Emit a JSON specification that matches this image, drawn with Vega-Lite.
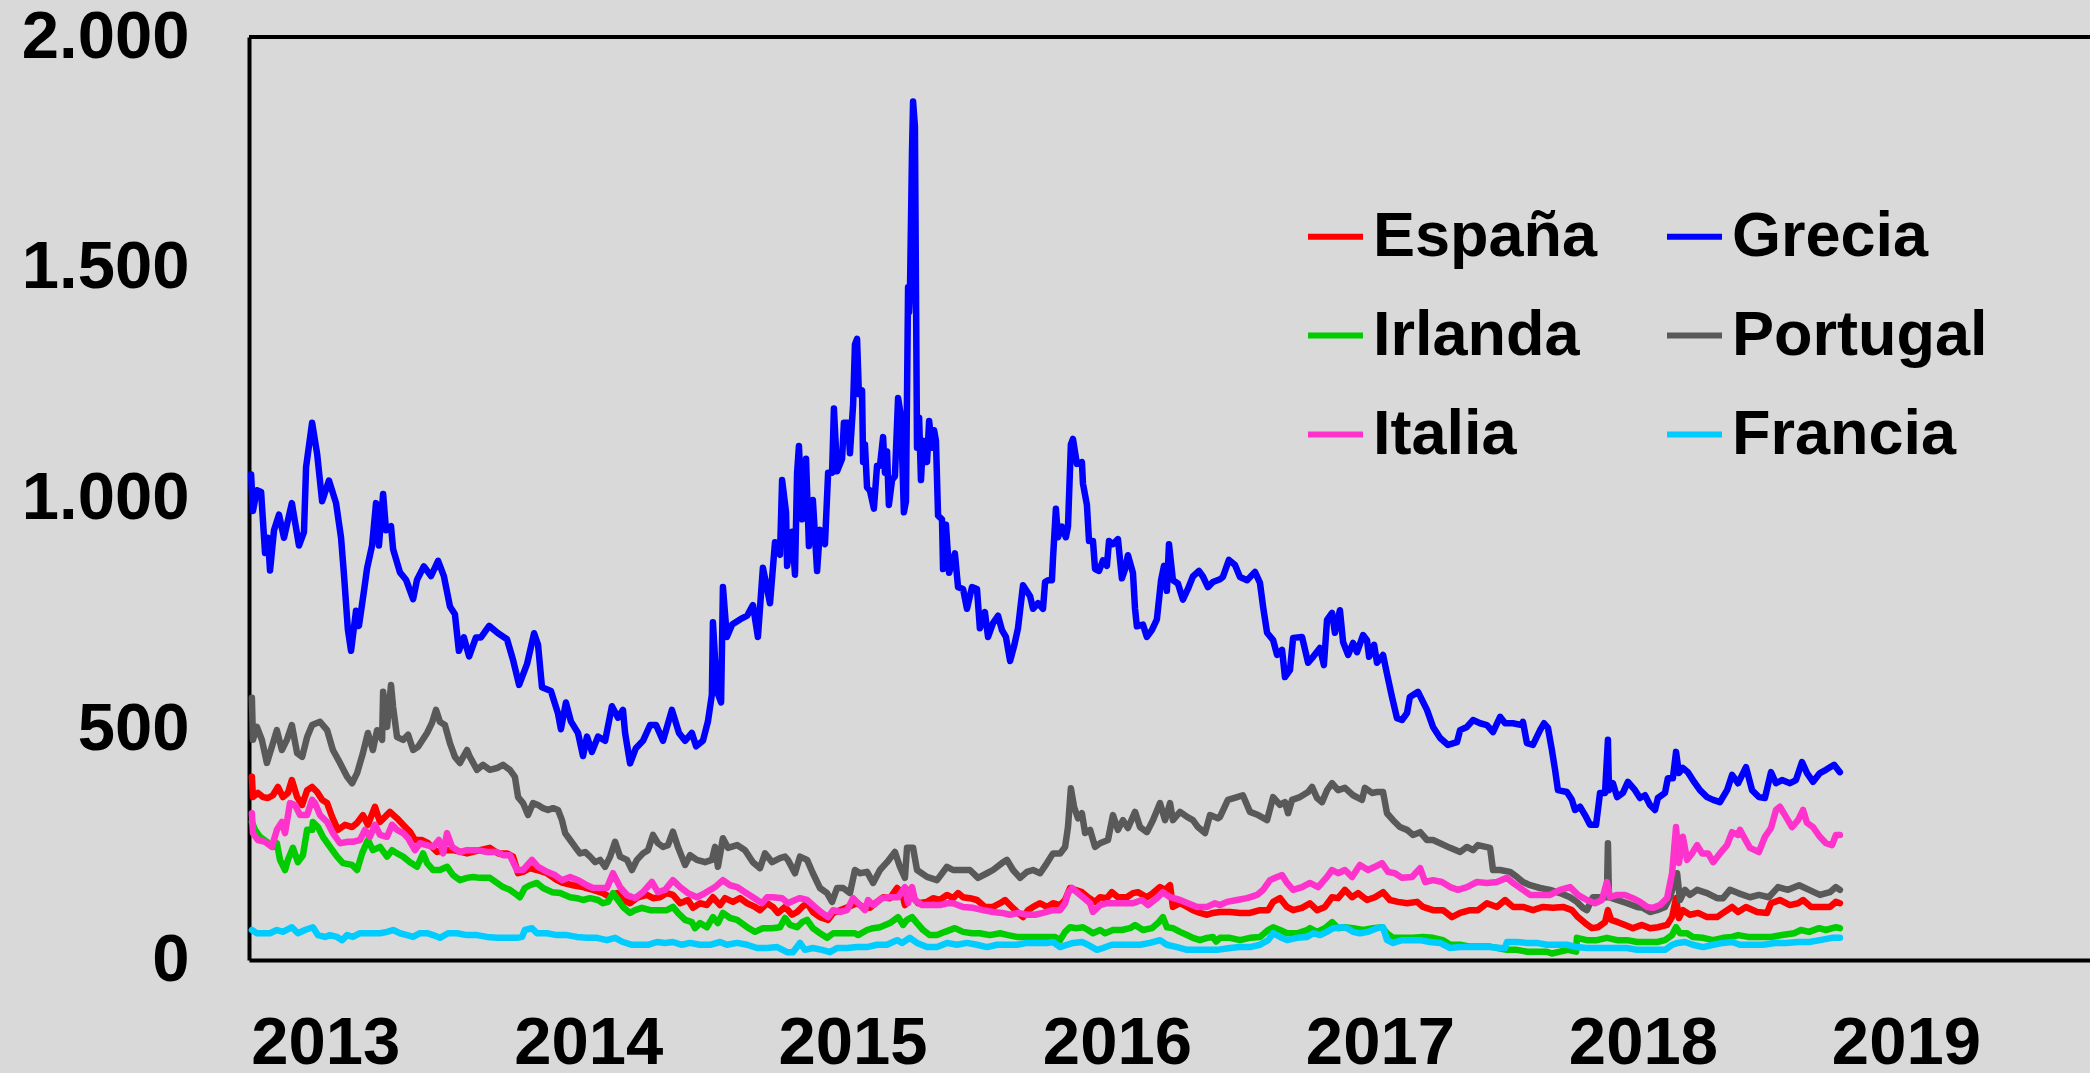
{
"$schema":"https://vega.github.io/schema/vega-lite/v6.json",
"width":1841,"height":923,"autosize":"none",
"padding":{"left":249,"top":37,"right":0,"bottom":113},
"background":"#d9d9d9",
"config":{"view":{"stroke":null},"font":"Liberation Sans",
 "axis":{"labelFont":"Liberation Sans","labelFontWeight":"bold","labelColor":"#000000","labelFontSize":67,"ticks":false,"grid":false,"domainColor":"#000000","domainWidth":4,"title":null,"labelFlush":false,"labelBound":false,"labelOverlap":false}},
"layer":[
{"data":{"values":[
{"pais":"España","t":2013.011,"pb":397},{"pais":"España","t":2013.015,"pb":353},{"pais":"España","t":2013.034,"pb":362},{"pais":"España","t":2013.053,"pb":353},{"pais":"España","t":2013.072,"pb":351},{"pais":"España","t":2013.091,"pb":357},{"pais":"España","t":2013.110,"pb":375},{"pais":"España","t":2013.129,"pb":353},{"pais":"España","t":2013.148,"pb":362},{"pais":"España","t":2013.163,"pb":390},{"pais":"España","t":2013.183,"pb":353},{"pais":"España","t":2013.202,"pb":336},{"pais":"España","t":2013.221,"pb":368},{"pais":"España","t":2013.240,"pb":375},{"pais":"España","t":2013.259,"pb":364},{"pais":"España","t":2013.278,"pb":347},{"pais":"España","t":2013.297,"pb":340},{"pais":"España","t":2013.316,"pb":310},{"pais":"España","t":2013.338,"pb":282},{"pais":"España","t":2013.365,"pb":293},{"pais":"España","t":2013.392,"pb":288},{"pais":"España","t":2013.411,"pb":297},{"pais":"España","t":2013.433,"pb":314},{"pais":"España","t":2013.452,"pb":293},{"pais":"España","t":2013.479,"pb":332},{"pais":"España","t":2013.498,"pb":299},{"pais":"España","t":2013.536,"pb":321},{"pais":"España","t":2013.563,"pb":307},{"pais":"España","t":2013.586,"pb":293},{"pais":"España","t":2013.612,"pb":278},{"pais":"España","t":2013.631,"pb":260},{"pais":"España","t":2013.658,"pb":260},{"pais":"España","t":2013.681,"pb":253},{"pais":"España","t":2013.715,"pb":234},{"pais":"España","t":2013.738,"pb":238},{"pais":"España","t":2013.776,"pb":238},{"pais":"España","t":2013.829,"pb":231},{"pais":"España","t":2013.878,"pb":238},{"pais":"España","t":2013.916,"pb":243},{"pais":"España","t":2013.947,"pb":231},{"pais":"España","t":2013.981,"pb":231},{"pais":"España","t":2014.004,"pb":224},{"pais":"España","t":2014.023,"pb":188},{"pais":"España","t":2014.042,"pb":191},{"pais":"España","t":2014.068,"pb":199},{"pais":"España","t":2014.095,"pb":195},{"pais":"España","t":2014.133,"pb":188},{"pais":"España","t":2014.171,"pb":173},{"pais":"España","t":2014.194,"pb":167},{"pais":"España","t":2014.232,"pb":162},{"pais":"España","t":2014.270,"pb":158},{"pais":"España","t":2014.308,"pb":152},{"pais":"España","t":2014.346,"pb":145},{"pais":"España","t":2014.373,"pb":136},{"pais":"España","t":2014.399,"pb":145},{"pais":"España","t":2014.422,"pb":130},{"pais":"España","t":2014.449,"pb":123},{"pais":"España","t":2014.479,"pb":136},{"pais":"España","t":2014.513,"pb":141},{"pais":"España","t":2014.536,"pb":134},{"pais":"España","t":2014.563,"pb":136},{"pais":"España","t":2014.589,"pb":145},{"pais":"España","t":2014.612,"pb":141},{"pais":"España","t":2014.639,"pb":123},{"pais":"España","t":2014.669,"pb":130},{"pais":"España","t":2014.688,"pb":113},{"pais":"España","t":2014.715,"pb":123},{"pais":"España","t":2014.741,"pb":119},{"pais":"España","t":2014.764,"pb":136},{"pais":"España","t":2014.791,"pb":119},{"pais":"España","t":2014.810,"pb":134},{"pais":"España","t":2014.840,"pb":126},{"pais":"España","t":2014.867,"pb":134},{"pais":"España","t":2014.894,"pb":123},{"pais":"España","t":2014.924,"pb":115},{"pais":"España","t":2014.943,"pb":108},{"pais":"España","t":2014.970,"pb":123},{"pais":"España","t":2014.992,"pb":115},{"pais":"España","t":2015.011,"pb":102},{"pais":"España","t":2015.038,"pb":115},{"pais":"España","t":2015.065,"pb":98},{"pais":"España","t":2015.084,"pb":104},{"pais":"España","t":2015.103,"pb":115},{"pais":"España","t":2015.122,"pb":123},{"pais":"España","t":2015.144,"pb":104},{"pais":"España","t":2015.171,"pb":93},{"pais":"España","t":2015.202,"pb":87},{"pais":"España","t":2015.221,"pb":102},{"pais":"España","t":2015.247,"pb":108},{"pais":"España","t":2015.278,"pb":115},{"pais":"España","t":2015.312,"pb":123},{"pais":"España","t":2015.335,"pb":115},{"pais":"España","t":2015.361,"pb":113},{"pais":"España","t":2015.388,"pb":126},{"pais":"España","t":2015.411,"pb":136},{"pais":"España","t":2015.437,"pb":134},{"pais":"España","t":2015.464,"pb":156},{"pais":"España","t":2015.483,"pb":145},{"pais":"España","t":2015.494,"pb":119},{"pais":"España","t":2015.506,"pb":152},{"pais":"España","t":2015.525,"pb":136},{"pais":"España","t":2015.544,"pb":123},{"pais":"España","t":2015.578,"pb":126},{"pais":"España","t":2015.601,"pb":134},{"pais":"España","t":2015.627,"pb":130},{"pais":"España","t":2015.654,"pb":141},{"pais":"España","t":2015.677,"pb":134},{"pais":"España","t":2015.696,"pb":145},{"pais":"España","t":2015.715,"pb":136},{"pais":"España","t":2015.741,"pb":134},{"pais":"España","t":2015.768,"pb":130},{"pais":"España","t":2015.798,"pb":115},{"pais":"España","t":2015.829,"pb":115},{"pais":"España","t":2015.856,"pb":123},{"pais":"España","t":2015.875,"pb":130},{"pais":"España","t":2015.901,"pb":115},{"pais":"España","t":2015.924,"pb":102},{"pais":"España","t":2015.943,"pb":93},{"pais":"España","t":2015.962,"pb":108},{"pais":"España","t":2015.981,"pb":115},{"pais":"España","t":2016.008,"pb":123},{"pais":"España","t":2016.034,"pb":115},{"pais":"España","t":2016.057,"pb":123},{"pais":"España","t":2016.084,"pb":119},{"pais":"España","t":2016.103,"pb":130},{"pais":"España","t":2016.122,"pb":156},{"pais":"España","t":2016.141,"pb":152},{"pais":"España","t":2016.167,"pb":147},{"pais":"España","t":2016.190,"pb":136},{"pais":"España","t":2016.217,"pb":126},{"pais":"España","t":2016.236,"pb":136},{"pais":"España","t":2016.262,"pb":134},{"pais":"España","t":2016.281,"pb":147},{"pais":"España","t":2016.304,"pb":136},{"pais":"España","t":2016.338,"pb":136},{"pais":"España","t":2016.361,"pb":145},{"pais":"España","t":2016.380,"pb":147},{"pais":"España","t":2016.414,"pb":136},{"pais":"España","t":2016.437,"pb":145},{"pais":"España","t":2016.464,"pb":158},{"pais":"España","t":2016.483,"pb":152},{"pais":"España","t":2016.502,"pb":162},{"pais":"España","t":2016.513,"pb":115},{"pais":"España","t":2016.540,"pb":123},{"pais":"España","t":2016.567,"pb":115},{"pais":"España","t":2016.589,"pb":108},{"pais":"España","t":2016.616,"pb":102},{"pais":"España","t":2016.643,"pb":98},{"pais":"España","t":2016.665,"pb":102},{"pais":"España","t":2016.692,"pb":104},{"pais":"España","t":2016.730,"pb":104},{"pais":"España","t":2016.768,"pb":102},{"pais":"España","t":2016.806,"pb":102},{"pais":"España","t":2016.844,"pb":108},{"pais":"España","t":2016.875,"pb":108},{"pais":"España","t":2016.894,"pb":126},{"pais":"España","t":2016.920,"pb":134},{"pais":"España","t":2016.947,"pb":115},{"pais":"España","t":2016.970,"pb":108},{"pais":"España","t":2017.004,"pb":113},{"pais":"España","t":2017.034,"pb":123},{"pais":"España","t":2017.061,"pb":108},{"pais":"España","t":2017.091,"pb":115},{"pais":"España","t":2017.118,"pb":136},{"pais":"España","t":2017.141,"pb":134},{"pais":"España","t":2017.167,"pb":152},{"pais":"España","t":2017.194,"pb":136},{"pais":"España","t":2017.217,"pb":145},{"pais":"España","t":2017.251,"pb":130},{"pais":"España","t":2017.281,"pb":136},{"pais":"España","t":2017.312,"pb":147},{"pais":"España","t":2017.338,"pb":130},{"pais":"España","t":2017.369,"pb":126},{"pais":"España","t":2017.403,"pb":123},{"pais":"España","t":2017.441,"pb":126},{"pais":"España","t":2017.464,"pb":115},{"pais":"España","t":2017.502,"pb":108},{"pais":"España","t":2017.540,"pb":108},{"pais":"España","t":2017.574,"pb":93},{"pais":"España","t":2017.605,"pb":102},{"pais":"España","t":2017.643,"pb":108},{"pais":"España","t":2017.673,"pb":108},{"pais":"España","t":2017.707,"pb":123},{"pais":"España","t":2017.745,"pb":115},{"pais":"España","t":2017.776,"pb":130},{"pais":"España","t":2017.806,"pb":115},{"pais":"España","t":2017.844,"pb":115},{"pais":"España","t":2017.882,"pb":108},{"pais":"España","t":2017.920,"pb":115},{"pais":"España","t":2017.958,"pb":113},{"pais":"España","t":2017.996,"pb":115},{"pais":"España","t":2018.030,"pb":108},{"pais":"España","t":2018.053,"pb":93},{"pais":"España","t":2018.080,"pb":80},{"pais":"España","t":2018.106,"pb":69},{"pais":"España","t":2018.129,"pb":71},{"pais":"España","t":2018.156,"pb":82},{"pais":"España","t":2018.167,"pb":108},{"pais":"España","t":2018.179,"pb":87},{"pais":"España","t":2018.205,"pb":82},{"pais":"España","t":2018.232,"pb":76},{"pais":"España","t":2018.262,"pb":69},{"pais":"España","t":2018.297,"pb":76},{"pais":"España","t":2018.327,"pb":69},{"pais":"España","t":2018.357,"pb":71},{"pais":"España","t":2018.392,"pb":76},{"pais":"España","t":2018.411,"pb":93},{"pais":"España","t":2018.426,"pb":134},{"pais":"España","t":2018.437,"pb":91},{"pais":"España","t":2018.452,"pb":108},{"pais":"España","t":2018.479,"pb":98},{"pais":"España","t":2018.510,"pb":102},{"pais":"España","t":2018.544,"pb":93},{"pais":"España","t":2018.582,"pb":93},{"pais":"España","t":2018.605,"pb":102},{"pais":"España","t":2018.639,"pb":115},{"pais":"España","t":2018.662,"pb":104},{"pais":"España","t":2018.692,"pb":115},{"pais":"España","t":2018.734,"pb":104},{"pais":"España","t":2018.772,"pb":102},{"pais":"España","t":2018.787,"pb":123},{"pais":"España","t":2018.821,"pb":130},{"pais":"España","t":2018.859,"pb":119},{"pais":"España","t":2018.890,"pb":123},{"pais":"España","t":2018.909,"pb":130},{"pais":"España","t":2018.939,"pb":115},{"pais":"España","t":2018.973,"pb":115},{"pais":"España","t":2019.011,"pb":115},{"pais":"España","t":2019.034,"pb":126},{"pais":"España","t":2019.049,"pb":123},
{"pais":"Grecia","t":2013.008,"pb":1052},{"pais":"Grecia","t":2013.015,"pb":973},{"pais":"Grecia","t":2013.030,"pb":1018},{"pais":"Grecia","t":2013.046,"pb":1014},{"pais":"Grecia","t":2013.061,"pb":882},{"pais":"Grecia","t":2013.072,"pb":915},{"pais":"Grecia","t":2013.080,"pb":844},{"pais":"Grecia","t":2013.095,"pb":931},{"pais":"Grecia","t":2013.114,"pb":965},{"pais":"Grecia","t":2013.133,"pb":915},{"pais":"Grecia","t":2013.163,"pb":990},{"pais":"Grecia","t":2013.190,"pb":898},{"pais":"Grecia","t":2013.209,"pb":927},{"pais":"Grecia","t":2013.217,"pb":1068},{"pais":"Grecia","t":2013.240,"pb":1164},{"pais":"Grecia","t":2013.259,"pb":1097},{"pais":"Grecia","t":2013.278,"pb":994},{"pais":"Grecia","t":2013.304,"pb":1039},{"pais":"Grecia","t":2013.331,"pb":990},{"pais":"Grecia","t":2013.350,"pb":915},{"pais":"Grecia","t":2013.361,"pb":836},{"pais":"Grecia","t":2013.376,"pb":716},{"pais":"Grecia","t":2013.388,"pb":670},{"pais":"Grecia","t":2013.407,"pb":757},{"pais":"Grecia","t":2013.418,"pb":724},{"pais":"Grecia","t":2013.437,"pb":799},{"pais":"Grecia","t":2013.449,"pb":849},{"pais":"Grecia","t":2013.468,"pb":898},{"pais":"Grecia","t":2013.483,"pb":990},{"pais":"Grecia","t":2013.494,"pb":898},{"pais":"Grecia","t":2013.510,"pb":1010},{"pais":"Grecia","t":2013.521,"pb":931},{"pais":"Grecia","t":2013.540,"pb":940},{"pais":"Grecia","t":2013.548,"pb":890},{"pais":"Grecia","t":2013.574,"pb":840},{"pais":"Grecia","t":2013.597,"pb":824},{"pais":"Grecia","t":2013.624,"pb":782},{"pais":"Grecia","t":2013.639,"pb":824},{"pais":"Grecia","t":2013.665,"pb":853},{"pais":"Grecia","t":2013.692,"pb":832},{"pais":"Grecia","t":2013.719,"pb":865},{"pais":"Grecia","t":2013.741,"pb":832},{"pais":"Grecia","t":2013.764,"pb":766},{"pais":"Grecia","t":2013.783,"pb":749},{"pais":"Grecia","t":2013.798,"pb":670},{"pais":"Grecia","t":2013.817,"pb":699},{"pais":"Grecia","t":2013.837,"pb":658},{"pais":"Grecia","t":2013.863,"pb":699},{"pais":"Grecia","t":2013.882,"pb":699},{"pais":"Grecia","t":2013.913,"pb":724},{"pais":"Grecia","t":2013.947,"pb":708},{"pais":"Grecia","t":2013.981,"pb":695},{"pais":"Grecia","t":2014.004,"pb":650},{"pais":"Grecia","t":2014.027,"pb":596},{"pais":"Grecia","t":2014.057,"pb":641},{"pais":"Grecia","t":2014.084,"pb":708},{"pais":"Grecia","t":2014.099,"pb":683},{"pais":"Grecia","t":2014.114,"pb":591},{"pais":"Grecia","t":2014.148,"pb":583},{"pais":"Grecia","t":2014.175,"pb":534},{"pais":"Grecia","t":2014.186,"pb":500},{"pais":"Grecia","t":2014.205,"pb":558},{"pais":"Grecia","t":2014.224,"pb":517},{"pais":"Grecia","t":2014.251,"pb":492},{"pais":"Grecia","t":2014.270,"pb":442},{"pais":"Grecia","t":2014.285,"pb":484},{"pais":"Grecia","t":2014.304,"pb":451},{"pais":"Grecia","t":2014.327,"pb":484},{"pais":"Grecia","t":2014.354,"pb":475},{"pais":"Grecia","t":2014.380,"pb":550},{"pais":"Grecia","t":2014.403,"pb":525},{"pais":"Grecia","t":2014.422,"pb":542},{"pais":"Grecia","t":2014.430,"pb":492},{"pais":"Grecia","t":2014.449,"pb":426},{"pais":"Grecia","t":2014.471,"pb":459},{"pais":"Grecia","t":2014.498,"pb":475},{"pais":"Grecia","t":2014.525,"pb":509},{"pais":"Grecia","t":2014.548,"pb":509},{"pais":"Grecia","t":2014.574,"pb":475},{"pais":"Grecia","t":2014.608,"pb":542},{"pais":"Grecia","t":2014.635,"pb":492},{"pais":"Grecia","t":2014.658,"pb":475},{"pais":"Grecia","t":2014.684,"pb":492},{"pais":"Grecia","t":2014.700,"pb":463},{"pais":"Grecia","t":2014.726,"pb":475},{"pais":"Grecia","t":2014.745,"pb":517},{"pais":"Grecia","t":2014.760,"pb":575},{"pais":"Grecia","t":2014.764,"pb":732},{"pais":"Grecia","t":2014.779,"pb":583},{"pais":"Grecia","t":2014.795,"pb":558},{"pais":"Grecia","t":2014.802,"pb":808},{"pais":"Grecia","t":2014.817,"pb":700},{"pais":"Grecia","t":2014.837,"pb":727},{"pais":"Grecia","t":2014.867,"pb":738},{"pais":"Grecia","t":2014.894,"pb":746},{"pais":"Grecia","t":2014.916,"pb":769},{"pais":"Grecia","t":2014.935,"pb":700},{"pais":"Grecia","t":2014.954,"pb":850},{"pais":"Grecia","t":2014.981,"pb":773},{"pais":"Grecia","t":2015.000,"pb":905},{"pais":"Grecia","t":2015.019,"pb":878},{"pais":"Grecia","t":2015.027,"pb":1040},{"pais":"Grecia","t":2015.042,"pb":970},{"pais":"Grecia","t":2015.046,"pb":854},{"pais":"Grecia","t":2015.065,"pb":928},{"pais":"Grecia","t":2015.076,"pb":835},{"pais":"Grecia","t":2015.084,"pb":1056},{"pais":"Grecia","t":2015.091,"pb":1114},{"pais":"Grecia","t":2015.103,"pb":955},{"pais":"Grecia","t":2015.118,"pb":1086},{"pais":"Grecia","t":2015.129,"pb":897},{"pais":"Grecia","t":2015.144,"pb":997},{"pais":"Grecia","t":2015.160,"pb":843},{"pais":"Grecia","t":2015.171,"pb":932},{"pais":"Grecia","t":2015.190,"pb":901},{"pais":"Grecia","t":2015.202,"pb":1056},{"pais":"Grecia","t":2015.217,"pb":1056},{"pais":"Grecia","t":2015.224,"pb":1195},{"pais":"Grecia","t":2015.236,"pb":1059},{"pais":"Grecia","t":2015.255,"pb":1086},{"pais":"Grecia","t":2015.262,"pb":1164},{"pais":"Grecia","t":2015.278,"pb":1164},{"pais":"Grecia","t":2015.285,"pb":1098},{"pais":"Grecia","t":2015.297,"pb":1203},{"pais":"Grecia","t":2015.304,"pb":1334},{"pais":"Grecia","t":2015.312,"pb":1346},{"pais":"Grecia","t":2015.319,"pb":1226},{"pais":"Grecia","t":2015.331,"pb":1234},{"pais":"Grecia","t":2015.335,"pb":1079},{"pais":"Grecia","t":2015.342,"pb":1117},{"pais":"Grecia","t":2015.350,"pb":1024},{"pais":"Grecia","t":2015.361,"pb":1017},{"pais":"Grecia","t":2015.376,"pb":978},{"pais":"Grecia","t":2015.388,"pb":1071},{"pais":"Grecia","t":2015.399,"pb":1071},{"pais":"Grecia","t":2015.411,"pb":1133},{"pais":"Grecia","t":2015.418,"pb":1056},{"pais":"Grecia","t":2015.426,"pb":1102},{"pais":"Grecia","t":2015.433,"pb":986},{"pais":"Grecia","t":2015.445,"pb":1040},{"pais":"Grecia","t":2015.456,"pb":1048},{"pais":"Grecia","t":2015.468,"pb":1218},{"pais":"Grecia","t":2015.479,"pb":1179},{"pais":"Grecia","t":2015.490,"pb":970},{"pais":"Grecia","t":2015.498,"pb":994},{"pais":"Grecia","t":2015.506,"pb":1458},{"pais":"Grecia","t":2015.510,"pb":1404},{"pais":"Grecia","t":2015.513,"pb":1442},{"pais":"Grecia","t":2015.521,"pb":1752},{"pais":"Grecia","t":2015.525,"pb":1860},{"pais":"Grecia","t":2015.532,"pb":1806},{"pais":"Grecia","t":2015.540,"pb":1110},{"pais":"Grecia","t":2015.548,"pb":1175},{"pais":"Grecia","t":2015.555,"pb":1040},{"pais":"Grecia","t":2015.563,"pb":1125},{"pais":"Grecia","t":2015.578,"pb":1079},{"pais":"Grecia","t":2015.586,"pb":1168},{"pais":"Grecia","t":2015.597,"pb":1110},{"pais":"Grecia","t":2015.605,"pb":1148},{"pais":"Grecia","t":2015.612,"pb":1125},{"pais":"Grecia","t":2015.620,"pb":963},{"pais":"Grecia","t":2015.635,"pb":955},{"pais":"Grecia","t":2015.639,"pb":847},{"pais":"Grecia","t":2015.650,"pb":943},{"pais":"Grecia","t":2015.662,"pb":839},{"pais":"Grecia","t":2015.684,"pb":881},{"pais":"Grecia","t":2015.696,"pb":808},{"pais":"Grecia","t":2015.715,"pb":804},{"pais":"Grecia","t":2015.730,"pb":761},{"pais":"Grecia","t":2015.749,"pb":808},{"pais":"Grecia","t":2015.768,"pb":804},{"pais":"Grecia","t":2015.779,"pb":719},{"pais":"Grecia","t":2015.798,"pb":754},{"pais":"Grecia","t":2015.810,"pb":700},{"pais":"Grecia","t":2015.829,"pb":730},{"pais":"Grecia","t":2015.848,"pb":746},{"pais":"Grecia","t":2015.863,"pb":715},{"pais":"Grecia","t":2015.878,"pb":700},{"pais":"Grecia","t":2015.894,"pb":648},{"pais":"Grecia","t":2015.909,"pb":680},{"pais":"Grecia","t":2015.924,"pb":719},{"pais":"Grecia","t":2015.943,"pb":812},{"pais":"Grecia","t":2015.970,"pb":788},{"pais":"Grecia","t":2015.981,"pb":761},{"pais":"Grecia","t":2016.000,"pb":773},{"pais":"Grecia","t":2016.019,"pb":761},{"pais":"Grecia","t":2016.027,"pb":819},{"pais":"Grecia","t":2016.038,"pb":823},{"pais":"Grecia","t":2016.053,"pb":823},{"pais":"Grecia","t":2016.057,"pb":870},{"pais":"Grecia","t":2016.068,"pb":978},{"pais":"Grecia","t":2016.076,"pb":916},{"pais":"Grecia","t":2016.091,"pb":939},{"pais":"Grecia","t":2016.106,"pb":916},{"pais":"Grecia","t":2016.114,"pb":939},{"pais":"Grecia","t":2016.125,"pb":1117},{"pais":"Grecia","t":2016.133,"pb":1129},{"pais":"Grecia","t":2016.148,"pb":1075},{"pais":"Grecia","t":2016.167,"pb":1079},{"pais":"Grecia","t":2016.171,"pb":1032},{"pais":"Grecia","t":2016.186,"pb":986},{"pais":"Grecia","t":2016.194,"pb":908},{"pais":"Grecia","t":2016.209,"pb":908},{"pais":"Grecia","t":2016.217,"pb":847},{"pais":"Grecia","t":2016.232,"pb":843},{"pais":"Grecia","t":2016.247,"pb":866},{"pais":"Grecia","t":2016.262,"pb":854},{"pais":"Grecia","t":2016.270,"pb":908},{"pais":"Grecia","t":2016.285,"pb":901},{"pais":"Grecia","t":2016.304,"pb":912},{"pais":"Grecia","t":2016.319,"pb":827},{"pais":"Grecia","t":2016.331,"pb":847},{"pais":"Grecia","t":2016.342,"pb":877},{"pais":"Grecia","t":2016.361,"pb":839},{"pais":"Grecia","t":2016.369,"pb":761},{"pais":"Grecia","t":2016.376,"pb":723},{"pais":"Grecia","t":2016.399,"pb":727},{"pais":"Grecia","t":2016.414,"pb":700},{"pais":"Grecia","t":2016.433,"pb":715},{"pais":"Grecia","t":2016.452,"pb":738},{"pais":"Grecia","t":2016.468,"pb":823},{"pais":"Grecia","t":2016.479,"pb":854},{"pais":"Grecia","t":2016.490,"pb":800},{"pais":"Grecia","t":2016.498,"pb":901},{"pais":"Grecia","t":2016.513,"pb":823},{"pais":"Grecia","t":2016.532,"pb":816},{"pais":"Grecia","t":2016.551,"pb":781},{"pais":"Grecia","t":2016.570,"pb":804},{"pais":"Grecia","t":2016.589,"pb":831},{"pais":"Grecia","t":2016.612,"pb":843},{"pais":"Grecia","t":2016.627,"pb":831},{"pais":"Grecia","t":2016.646,"pb":808},{"pais":"Grecia","t":2016.665,"pb":819},{"pais":"Grecia","t":2016.692,"pb":825},{"pais":"Grecia","t":2016.703,"pb":830},{"pais":"Grecia","t":2016.726,"pb":867},{"pais":"Grecia","t":2016.749,"pb":856},{"pais":"Grecia","t":2016.768,"pb":830},{"pais":"Grecia","t":2016.795,"pb":823},{"pais":"Grecia","t":2016.825,"pb":841},{"pais":"Grecia","t":2016.844,"pb":817},{"pais":"Grecia","t":2016.856,"pb":765},{"pais":"Grecia","t":2016.871,"pb":709},{"pais":"Grecia","t":2016.894,"pb":693},{"pais":"Grecia","t":2016.909,"pb":661},{"pais":"Grecia","t":2016.928,"pb":672},{"pais":"Grecia","t":2016.939,"pb":613},{"pais":"Grecia","t":2016.958,"pb":628},{"pais":"Grecia","t":2016.970,"pb":698},{"pais":"Grecia","t":2017.004,"pb":700},{"pais":"Grecia","t":2017.027,"pb":644},{"pais":"Grecia","t":2017.046,"pb":657},{"pais":"Grecia","t":2017.072,"pb":676},{"pais":"Grecia","t":2017.087,"pb":639},{"pais":"Grecia","t":2017.099,"pb":737},{"pais":"Grecia","t":2017.118,"pb":752},{"pais":"Grecia","t":2017.129,"pb":709},{"pais":"Grecia","t":2017.148,"pb":758},{"pais":"Grecia","t":2017.160,"pb":689},{"pais":"Grecia","t":2017.179,"pb":661},{"pais":"Grecia","t":2017.198,"pb":687},{"pais":"Grecia","t":2017.213,"pb":667},{"pais":"Grecia","t":2017.236,"pb":704},{"pais":"Grecia","t":2017.251,"pb":693},{"pais":"Grecia","t":2017.259,"pb":657},{"pais":"Grecia","t":2017.278,"pb":683},{"pais":"Grecia","t":2017.289,"pb":644},{"pais":"Grecia","t":2017.312,"pb":661},{"pais":"Grecia","t":2017.327,"pb":620},{"pais":"Grecia","t":2017.346,"pb":570},{"pais":"Grecia","t":2017.365,"pb":524},{"pais":"Grecia","t":2017.384,"pb":520},{"pais":"Grecia","t":2017.403,"pb":535},{"pais":"Grecia","t":2017.414,"pb":570},{"pais":"Grecia","t":2017.445,"pb":581},{"pais":"Grecia","t":2017.479,"pb":542},{"pais":"Grecia","t":2017.502,"pb":505},{"pais":"Grecia","t":2017.529,"pb":481},{"pais":"Grecia","t":2017.559,"pb":466},{"pais":"Grecia","t":2017.593,"pb":472},{"pais":"Grecia","t":2017.605,"pb":498},{"pais":"Grecia","t":2017.631,"pb":505},{"pais":"Grecia","t":2017.654,"pb":520},{"pais":"Grecia","t":2017.681,"pb":513},{"pais":"Grecia","t":2017.707,"pb":509},{"pais":"Grecia","t":2017.730,"pb":494},{"pais":"Grecia","t":2017.757,"pb":527},{"pais":"Grecia","t":2017.776,"pb":513},{"pais":"Grecia","t":2017.806,"pb":513},{"pais":"Grecia","t":2017.840,"pb":509},{"pais":"Grecia","t":2017.844,"pb":516},{"pais":"Grecia","t":2017.859,"pb":470},{"pais":"Grecia","t":2017.882,"pb":466},{"pais":"Grecia","t":2017.909,"pb":498},{"pais":"Grecia","t":2017.924,"pb":513},{"pais":"Grecia","t":2017.939,"pb":503},{"pais":"Grecia","t":2017.954,"pb":455},{"pais":"Grecia","t":2017.966,"pb":412},{"pais":"Grecia","t":2017.977,"pb":368},{"pais":"Grecia","t":2018.011,"pb":364},{"pais":"Grecia","t":2018.030,"pb":347},{"pais":"Grecia","t":2018.042,"pb":325},{"pais":"Grecia","t":2018.061,"pb":332},{"pais":"Grecia","t":2018.080,"pb":314},{"pais":"Grecia","t":2018.099,"pb":293},{"pais":"Grecia","t":2018.122,"pb":293},{"pais":"Grecia","t":2018.137,"pb":362},{"pais":"Grecia","t":2018.156,"pb":362},{"pais":"Grecia","t":2018.167,"pb":477},{"pais":"Grecia","t":2018.171,"pb":368},{"pais":"Grecia","t":2018.186,"pb":383},{"pais":"Grecia","t":2018.202,"pb":353},{"pais":"Grecia","t":2018.224,"pb":362},{"pais":"Grecia","t":2018.243,"pb":386},{"pais":"Grecia","t":2018.270,"pb":368},{"pais":"Grecia","t":2018.289,"pb":351},{"pais":"Grecia","t":2018.308,"pb":357},{"pais":"Grecia","t":2018.327,"pb":336},{"pais":"Grecia","t":2018.346,"pb":325},{"pais":"Grecia","t":2018.357,"pb":351},{"pais":"Grecia","t":2018.384,"pb":362},{"pais":"Grecia","t":2018.395,"pb":394},{"pais":"Grecia","t":2018.414,"pb":394},{"pais":"Grecia","t":2018.426,"pb":451},{"pais":"Grecia","t":2018.437,"pb":405},{"pais":"Grecia","t":2018.452,"pb":416},{"pais":"Grecia","t":2018.471,"pb":407},{"pais":"Grecia","t":2018.490,"pb":390},{"pais":"Grecia","t":2018.517,"pb":368},{"pais":"Grecia","t":2018.544,"pb":353},{"pais":"Grecia","t":2018.567,"pb":347},{"pais":"Grecia","t":2018.593,"pb":342},{"pais":"Grecia","t":2018.620,"pb":368},{"pais":"Grecia","t":2018.639,"pb":401},{"pais":"Grecia","t":2018.662,"pb":383},{"pais":"Grecia","t":2018.692,"pb":418},{"pais":"Grecia","t":2018.715,"pb":368},{"pais":"Grecia","t":2018.741,"pb":353},{"pais":"Grecia","t":2018.764,"pb":351},{"pais":"Grecia","t":2018.787,"pb":407},{"pais":"Grecia","t":2018.806,"pb":383},{"pais":"Grecia","t":2018.829,"pb":390},{"pais":"Grecia","t":2018.859,"pb":383},{"pais":"Grecia","t":2018.882,"pb":390},{"pais":"Grecia","t":2018.905,"pb":429},{"pais":"Grecia","t":2018.924,"pb":405},{"pais":"Grecia","t":2018.947,"pb":386},{"pais":"Grecia","t":2018.973,"pb":405},{"pais":"Grecia","t":2018.996,"pb":412},{"pais":"Grecia","t":2019.027,"pb":423},{"pais":"Grecia","t":2019.049,"pb":407},
{"pais":"Irlanda","t":2013.011,"pb":299},{"pais":"Irlanda","t":2013.023,"pb":282},{"pais":"Irlanda","t":2013.042,"pb":267},{"pais":"Irlanda","t":2013.068,"pb":256},{"pais":"Irlanda","t":2013.091,"pb":245},{"pais":"Irlanda","t":2013.106,"pb":253},{"pais":"Irlanda","t":2013.118,"pb":217},{"pais":"Irlanda","t":2013.137,"pb":195},{"pais":"Irlanda","t":2013.148,"pb":217},{"pais":"Irlanda","t":2013.167,"pb":243},{"pais":"Irlanda","t":2013.186,"pb":212},{"pais":"Irlanda","t":2013.205,"pb":227},{"pais":"Irlanda","t":2013.221,"pb":282},{"pais":"Irlanda","t":2013.240,"pb":282},{"pais":"Irlanda","t":2013.243,"pb":299},{"pais":"Irlanda","t":2013.262,"pb":288},{"pais":"Irlanda","t":2013.281,"pb":267},{"pais":"Irlanda","t":2013.308,"pb":245},{"pais":"Irlanda","t":2013.335,"pb":224},{"pais":"Irlanda","t":2013.357,"pb":210},{"pais":"Irlanda","t":2013.392,"pb":206},{"pais":"Irlanda","t":2013.411,"pb":195},{"pais":"Irlanda","t":2013.430,"pb":231},{"pais":"Irlanda","t":2013.452,"pb":260},{"pais":"Irlanda","t":2013.471,"pb":238},{"pais":"Irlanda","t":2013.498,"pb":245},{"pais":"Irlanda","t":2013.525,"pb":224},{"pais":"Irlanda","t":2013.544,"pb":238},{"pais":"Irlanda","t":2013.563,"pb":231},{"pais":"Irlanda","t":2013.586,"pb":224},{"pais":"Irlanda","t":2013.612,"pb":212},{"pais":"Irlanda","t":2013.639,"pb":202},{"pais":"Irlanda","t":2013.662,"pb":231},{"pais":"Irlanda","t":2013.677,"pb":210},{"pais":"Irlanda","t":2013.700,"pb":195},{"pais":"Irlanda","t":2013.726,"pb":195},{"pais":"Irlanda","t":2013.753,"pb":202},{"pais":"Irlanda","t":2013.776,"pb":184},{"pais":"Irlanda","t":2013.802,"pb":173},{"pais":"Irlanda","t":2013.829,"pb":178},{"pais":"Irlanda","t":2013.852,"pb":180},{"pais":"Irlanda","t":2013.878,"pb":178},{"pais":"Irlanda","t":2013.916,"pb":178},{"pais":"Irlanda","t":2013.943,"pb":167},{"pais":"Irlanda","t":2013.966,"pb":158},{"pais":"Irlanda","t":2013.992,"pb":152},{"pais":"Irlanda","t":2014.019,"pb":141},{"pais":"Irlanda","t":2014.030,"pb":136},{"pais":"Irlanda","t":2014.049,"pb":156},{"pais":"Irlanda","t":2014.068,"pb":162},{"pais":"Irlanda","t":2014.095,"pb":167},{"pais":"Irlanda","t":2014.118,"pb":156},{"pais":"Irlanda","t":2014.152,"pb":147},{"pais":"Irlanda","t":2014.183,"pb":145},{"pais":"Irlanda","t":2014.221,"pb":136},{"pais":"Irlanda","t":2014.247,"pb":134},{"pais":"Irlanda","t":2014.270,"pb":130},{"pais":"Irlanda","t":2014.297,"pb":134},{"pais":"Irlanda","t":2014.327,"pb":130},{"pais":"Irlanda","t":2014.346,"pb":123},{"pais":"Irlanda","t":2014.365,"pb":126},{"pais":"Irlanda","t":2014.384,"pb":145},{"pais":"Irlanda","t":2014.403,"pb":130},{"pais":"Irlanda","t":2014.422,"pb":115},{"pais":"Irlanda","t":2014.449,"pb":102},{"pais":"Irlanda","t":2014.468,"pb":108},{"pais":"Irlanda","t":2014.494,"pb":113},{"pais":"Irlanda","t":2014.525,"pb":108},{"pais":"Irlanda","t":2014.555,"pb":108},{"pais":"Irlanda","t":2014.589,"pb":108},{"pais":"Irlanda","t":2014.612,"pb":115},{"pais":"Irlanda","t":2014.631,"pb":102},{"pais":"Irlanda","t":2014.658,"pb":87},{"pais":"Irlanda","t":2014.684,"pb":82},{"pais":"Irlanda","t":2014.696,"pb":69},{"pais":"Irlanda","t":2014.715,"pb":80},{"pais":"Irlanda","t":2014.741,"pb":71},{"pais":"Irlanda","t":2014.764,"pb":93},{"pais":"Irlanda","t":2014.783,"pb":80},{"pais":"Irlanda","t":2014.802,"pb":102},{"pais":"Irlanda","t":2014.829,"pb":91},{"pais":"Irlanda","t":2014.856,"pb":87},{"pais":"Irlanda","t":2014.894,"pb":71},{"pais":"Irlanda","t":2014.924,"pb":61},{"pais":"Irlanda","t":2014.954,"pb":69},{"pais":"Irlanda","t":2014.989,"pb":69},{"pais":"Irlanda","t":2015.019,"pb":71},{"pais":"Irlanda","t":2015.038,"pb":91},{"pais":"Irlanda","t":2015.057,"pb":76},{"pais":"Irlanda","t":2015.084,"pb":71},{"pais":"Irlanda","t":2015.103,"pb":82},{"pais":"Irlanda","t":2015.122,"pb":87},{"pais":"Irlanda","t":2015.144,"pb":69},{"pais":"Irlanda","t":2015.171,"pb":58},{"pais":"Irlanda","t":2015.198,"pb":48},{"pais":"Irlanda","t":2015.221,"pb":58},{"pais":"Irlanda","t":2015.259,"pb":58},{"pais":"Irlanda","t":2015.304,"pb":58},{"pais":"Irlanda","t":2015.316,"pb":54},{"pais":"Irlanda","t":2015.350,"pb":65},{"pais":"Irlanda","t":2015.373,"pb":69},{"pais":"Irlanda","t":2015.399,"pb":71},{"pais":"Irlanda","t":2015.437,"pb":80},{"pais":"Irlanda","t":2015.468,"pb":93},{"pais":"Irlanda","t":2015.487,"pb":76},{"pais":"Irlanda","t":2015.502,"pb":87},{"pais":"Irlanda","t":2015.521,"pb":93},{"pais":"Irlanda","t":2015.540,"pb":80},{"pais":"Irlanda","t":2015.563,"pb":65},{"pais":"Irlanda","t":2015.589,"pb":54},{"pais":"Irlanda","t":2015.616,"pb":54},{"pais":"Irlanda","t":2015.646,"pb":61},{"pais":"Irlanda","t":2015.684,"pb":69},{"pais":"Irlanda","t":2015.715,"pb":61},{"pais":"Irlanda","t":2015.749,"pb":58},{"pais":"Irlanda","t":2015.779,"pb":58},{"pais":"Irlanda","t":2015.817,"pb":54},{"pais":"Irlanda","t":2015.856,"pb":58},{"pais":"Irlanda","t":2015.886,"pb":54},{"pais":"Irlanda","t":2015.920,"pb":50},{"pais":"Irlanda","t":2015.958,"pb":50},{"pais":"Irlanda","t":2015.996,"pb":50},{"pais":"Irlanda","t":2016.034,"pb":50},{"pais":"Irlanda","t":2016.065,"pb":50},{"pais":"Irlanda","t":2016.084,"pb":43},{"pais":"Irlanda","t":2016.103,"pb":61},{"pais":"Irlanda","t":2016.122,"pb":71},{"pais":"Irlanda","t":2016.148,"pb":69},{"pais":"Irlanda","t":2016.171,"pb":71},{"pais":"Irlanda","t":2016.190,"pb":65},{"pais":"Irlanda","t":2016.209,"pb":58},{"pais":"Irlanda","t":2016.236,"pb":65},{"pais":"Irlanda","t":2016.255,"pb":58},{"pais":"Irlanda","t":2016.285,"pb":65},{"pais":"Irlanda","t":2016.319,"pb":65},{"pais":"Irlanda","t":2016.350,"pb":69},{"pais":"Irlanda","t":2016.369,"pb":76},{"pais":"Irlanda","t":2016.399,"pb":65},{"pais":"Irlanda","t":2016.433,"pb":69},{"pais":"Irlanda","t":2016.456,"pb":80},{"pais":"Irlanda","t":2016.475,"pb":93},{"pais":"Irlanda","t":2016.490,"pb":71},{"pais":"Irlanda","t":2016.513,"pb":69},{"pais":"Irlanda","t":2016.540,"pb":61},{"pais":"Irlanda","t":2016.567,"pb":54},{"pais":"Irlanda","t":2016.589,"pb":48},{"pais":"Irlanda","t":2016.616,"pb":43},{"pais":"Irlanda","t":2016.643,"pb":48},{"pais":"Irlanda","t":2016.665,"pb":50},{"pais":"Irlanda","t":2016.677,"pb":40},{"pais":"Irlanda","t":2016.692,"pb":48},{"pais":"Irlanda","t":2016.730,"pb":48},{"pais":"Irlanda","t":2016.768,"pb":43},{"pais":"Irlanda","t":2016.806,"pb":48},{"pais":"Irlanda","t":2016.844,"pb":50},{"pais":"Irlanda","t":2016.875,"pb":65},{"pais":"Irlanda","t":2016.894,"pb":71},{"pais":"Irlanda","t":2016.920,"pb":65},{"pais":"Irlanda","t":2016.947,"pb":58},{"pais":"Irlanda","t":2016.985,"pb":58},{"pais":"Irlanda","t":2017.023,"pb":65},{"pais":"Irlanda","t":2017.034,"pb":69},{"pais":"Irlanda","t":2017.061,"pb":61},{"pais":"Irlanda","t":2017.091,"pb":69},{"pais":"Irlanda","t":2017.118,"pb":82},{"pais":"Irlanda","t":2017.141,"pb":69},{"pais":"Irlanda","t":2017.167,"pb":71},{"pais":"Irlanda","t":2017.198,"pb":69},{"pais":"Irlanda","t":2017.236,"pb":65},{"pais":"Irlanda","t":2017.274,"pb":69},{"pais":"Irlanda","t":2017.308,"pb":71},{"pais":"Irlanda","t":2017.327,"pb":58},{"pais":"Irlanda","t":2017.350,"pb":48},{"pais":"Irlanda","t":2017.388,"pb":48},{"pais":"Irlanda","t":2017.426,"pb":48},{"pais":"Irlanda","t":2017.464,"pb":50},{"pais":"Irlanda","t":2017.502,"pb":48},{"pais":"Irlanda","t":2017.540,"pb":43},{"pais":"Irlanda","t":2017.567,"pb":33},{"pais":"Irlanda","t":2017.605,"pb":33},{"pais":"Irlanda","t":2017.643,"pb":29},{"pais":"Irlanda","t":2017.681,"pb":29},{"pais":"Irlanda","t":2017.719,"pb":29},{"pais":"Irlanda","t":2017.757,"pb":25},{"pais":"Irlanda","t":2017.783,"pb":22},{"pais":"Irlanda","t":2017.821,"pb":22},{"pais":"Irlanda","t":2017.859,"pb":18},{"pais":"Irlanda","t":2017.897,"pb":18},{"pais":"Irlanda","t":2017.935,"pb":18},{"pais":"Irlanda","t":2017.954,"pb":14},{"pais":"Irlanda","t":2017.985,"pb":18},{"pais":"Irlanda","t":2018.015,"pb":22},{"pais":"Irlanda","t":2018.046,"pb":18},{"pais":"Irlanda","t":2018.049,"pb":48},{"pais":"Irlanda","t":2018.087,"pb":43},{"pais":"Irlanda","t":2018.125,"pb":43},{"pais":"Irlanda","t":2018.163,"pb":48},{"pais":"Irlanda","t":2018.202,"pb":43},{"pais":"Irlanda","t":2018.240,"pb":43},{"pais":"Irlanda","t":2018.278,"pb":39},{"pais":"Irlanda","t":2018.316,"pb":39},{"pais":"Irlanda","t":2018.354,"pb":39},{"pais":"Irlanda","t":2018.384,"pb":43},{"pais":"Irlanda","t":2018.411,"pb":54},{"pais":"Irlanda","t":2018.426,"pb":71},{"pais":"Irlanda","t":2018.441,"pb":58},{"pais":"Irlanda","t":2018.468,"pb":58},{"pais":"Irlanda","t":2018.490,"pb":50},{"pais":"Irlanda","t":2018.529,"pb":48},{"pais":"Irlanda","t":2018.567,"pb":43},{"pais":"Irlanda","t":2018.605,"pb":48},{"pais":"Irlanda","t":2018.639,"pb":50},{"pais":"Irlanda","t":2018.662,"pb":54},{"pais":"Irlanda","t":2018.700,"pb":50},{"pais":"Irlanda","t":2018.741,"pb":50},{"pais":"Irlanda","t":2018.787,"pb":50},{"pais":"Irlanda","t":2018.829,"pb":54},{"pais":"Irlanda","t":2018.875,"pb":58},{"pais":"Irlanda","t":2018.901,"pb":65},{"pais":"Irlanda","t":2018.932,"pb":61},{"pais":"Irlanda","t":2018.970,"pb":69},{"pais":"Irlanda","t":2018.996,"pb":65},{"pais":"Irlanda","t":2019.034,"pb":71},{"pais":"Irlanda","t":2019.049,"pb":69},
{"pais":"Portugal","t":2013.011,"pb":568},{"pais":"Portugal","t":2013.015,"pb":477},{"pais":"Portugal","t":2013.030,"pb":505},{"pais":"Portugal","t":2013.049,"pb":477},{"pais":"Portugal","t":2013.068,"pb":427},{"pais":"Portugal","t":2013.087,"pb":462},{"pais":"Portugal","t":2013.106,"pb":498},{"pais":"Portugal","t":2013.125,"pb":455},{"pais":"Portugal","t":2013.144,"pb":477},{"pais":"Portugal","t":2013.163,"pb":509},{"pais":"Portugal","t":2013.183,"pb":448},{"pais":"Portugal","t":2013.202,"pb":440},{"pais":"Portugal","t":2013.221,"pb":483},{"pais":"Portugal","t":2013.240,"pb":509},{"pais":"Portugal","t":2013.270,"pb":516},{"pais":"Portugal","t":2013.297,"pb":498},{"pais":"Portugal","t":2013.319,"pb":455},{"pais":"Portugal","t":2013.346,"pb":427},{"pais":"Portugal","t":2013.373,"pb":397},{"pais":"Portugal","t":2013.392,"pb":383},{"pais":"Portugal","t":2013.411,"pb":405},{"pais":"Portugal","t":2013.433,"pb":448},{"pais":"Portugal","t":2013.452,"pb":492},{"pais":"Portugal","t":2013.471,"pb":455},{"pais":"Portugal","t":2013.487,"pb":498},{"pais":"Portugal","t":2013.506,"pb":477},{"pais":"Portugal","t":2013.510,"pb":581},{"pais":"Portugal","t":2013.525,"pb":505},{"pais":"Portugal","t":2013.540,"pb":596},{"pais":"Portugal","t":2013.548,"pb":548},{"pais":"Portugal","t":2013.563,"pb":483},{"pais":"Portugal","t":2013.586,"pb":477},{"pais":"Portugal","t":2013.605,"pb":488},{"pais":"Portugal","t":2013.624,"pb":455},{"pais":"Portugal","t":2013.643,"pb":462},{"pais":"Portugal","t":2013.677,"pb":492},{"pais":"Portugal","t":2013.696,"pb":514},{"pais":"Portugal","t":2013.711,"pb":542},{"pais":"Portugal","t":2013.726,"pb":516},{"pais":"Portugal","t":2013.745,"pb":509},{"pais":"Portugal","t":2013.764,"pb":470},{"pais":"Portugal","t":2013.783,"pb":440},{"pais":"Portugal","t":2013.802,"pb":427},{"pais":"Portugal","t":2013.829,"pb":455},{"pais":"Portugal","t":2013.840,"pb":440},{"pais":"Portugal","t":2013.867,"pb":412},{"pais":"Portugal","t":2013.890,"pb":423},{"pais":"Portugal","t":2013.916,"pb":412},{"pais":"Portugal","t":2013.943,"pb":416},{"pais":"Portugal","t":2013.966,"pb":423},{"pais":"Portugal","t":2013.992,"pb":412},{"pais":"Portugal","t":2014.011,"pb":397},{"pais":"Portugal","t":2014.023,"pb":353},{"pais":"Portugal","t":2014.042,"pb":340},{"pais":"Portugal","t":2014.061,"pb":314},{"pais":"Portugal","t":2014.080,"pb":340},{"pais":"Portugal","t":2014.099,"pb":336},{"pais":"Portugal","t":2014.118,"pb":329},{"pais":"Portugal","t":2014.137,"pb":325},{"pais":"Portugal","t":2014.156,"pb":329},{"pais":"Portugal","t":2014.175,"pb":325},{"pais":"Portugal","t":2014.190,"pb":303},{"pais":"Portugal","t":2014.202,"pb":275},{"pais":"Portugal","t":2014.221,"pb":260},{"pais":"Portugal","t":2014.240,"pb":245},{"pais":"Portugal","t":2014.259,"pb":231},{"pais":"Portugal","t":2014.278,"pb":234},{"pais":"Portugal","t":2014.297,"pb":224},{"pais":"Portugal","t":2014.316,"pb":212},{"pais":"Portugal","t":2014.335,"pb":217},{"pais":"Portugal","t":2014.354,"pb":202},{"pais":"Portugal","t":2014.373,"pb":224},{"pais":"Portugal","t":2014.392,"pb":256},{"pais":"Portugal","t":2014.411,"pb":224},{"pais":"Portugal","t":2014.437,"pb":217},{"pais":"Portugal","t":2014.456,"pb":195},{"pais":"Portugal","t":2014.475,"pb":217},{"pais":"Portugal","t":2014.498,"pb":231},{"pais":"Portugal","t":2014.517,"pb":238},{"pais":"Portugal","t":2014.536,"pb":271},{"pais":"Portugal","t":2014.555,"pb":253},{"pais":"Portugal","t":2014.574,"pb":245},{"pais":"Portugal","t":2014.593,"pb":249},{"pais":"Portugal","t":2014.612,"pb":278},{"pais":"Portugal","t":2014.631,"pb":245},{"pais":"Portugal","t":2014.658,"pb":206},{"pais":"Portugal","t":2014.677,"pb":227},{"pais":"Portugal","t":2014.703,"pb":217},{"pais":"Portugal","t":2014.734,"pb":212},{"pais":"Portugal","t":2014.760,"pb":217},{"pais":"Portugal","t":2014.772,"pb":245},{"pais":"Portugal","t":2014.783,"pb":202},{"pais":"Portugal","t":2014.802,"pb":264},{"pais":"Portugal","t":2014.821,"pb":243},{"pais":"Portugal","t":2014.856,"pb":249},{"pais":"Portugal","t":2014.886,"pb":238},{"pais":"Portugal","t":2014.916,"pb":212},{"pais":"Portugal","t":2014.943,"pb":199},{"pais":"Portugal","t":2014.962,"pb":231},{"pais":"Portugal","t":2014.989,"pb":212},{"pais":"Portugal","t":2015.019,"pb":221},{"pais":"Portugal","t":2015.038,"pb":224},{"pais":"Portugal","t":2015.049,"pb":217},{"pais":"Portugal","t":2015.076,"pb":188},{"pais":"Portugal","t":2015.095,"pb":224},{"pais":"Portugal","t":2015.122,"pb":217},{"pais":"Portugal","t":2015.144,"pb":188},{"pais":"Portugal","t":2015.171,"pb":156},{"pais":"Portugal","t":2015.198,"pb":145},{"pais":"Portugal","t":2015.217,"pb":126},{"pais":"Portugal","t":2015.236,"pb":156},{"pais":"Portugal","t":2015.259,"pb":156},{"pais":"Portugal","t":2015.285,"pb":145},{"pais":"Portugal","t":2015.304,"pb":195},{"pais":"Portugal","t":2015.323,"pb":188},{"pais":"Portugal","t":2015.350,"pb":191},{"pais":"Portugal","t":2015.373,"pb":167},{"pais":"Portugal","t":2015.399,"pb":195},{"pais":"Portugal","t":2015.426,"pb":212},{"pais":"Portugal","t":2015.456,"pb":234},{"pais":"Portugal","t":2015.475,"pb":202},{"pais":"Portugal","t":2015.494,"pb":178},{"pais":"Portugal","t":2015.502,"pb":243},{"pais":"Portugal","t":2015.525,"pb":243},{"pais":"Portugal","t":2015.540,"pb":195},{"pais":"Portugal","t":2015.578,"pb":180},{"pais":"Portugal","t":2015.616,"pb":173},{"pais":"Portugal","t":2015.654,"pb":202},{"pais":"Portugal","t":2015.677,"pb":195},{"pais":"Portugal","t":2015.715,"pb":195},{"pais":"Portugal","t":2015.741,"pb":195},{"pais":"Portugal","t":2015.772,"pb":178},{"pais":"Portugal","t":2015.806,"pb":188},{"pais":"Portugal","t":2015.829,"pb":195},{"pais":"Portugal","t":2015.863,"pb":210},{"pais":"Portugal","t":2015.882,"pb":217},{"pais":"Portugal","t":2015.905,"pb":195},{"pais":"Portugal","t":2015.932,"pb":178},{"pais":"Portugal","t":2015.958,"pb":191},{"pais":"Portugal","t":2015.981,"pb":195},{"pais":"Portugal","t":2016.008,"pb":188},{"pais":"Portugal","t":2016.034,"pb":210},{"pais":"Portugal","t":2016.057,"pb":231},{"pais":"Portugal","t":2016.084,"pb":231},{"pais":"Portugal","t":2016.103,"pb":245},{"pais":"Portugal","t":2016.114,"pb":288},{"pais":"Portugal","t":2016.125,"pb":372},{"pais":"Portugal","t":2016.137,"pb":332},{"pais":"Portugal","t":2016.152,"pb":307},{"pais":"Portugal","t":2016.167,"pb":318},{"pais":"Portugal","t":2016.179,"pb":275},{"pais":"Portugal","t":2016.198,"pb":282},{"pais":"Portugal","t":2016.217,"pb":245},{"pais":"Portugal","t":2016.236,"pb":253},{"pais":"Portugal","t":2016.266,"pb":260},{"pais":"Portugal","t":2016.285,"pb":314},{"pais":"Portugal","t":2016.304,"pb":282},{"pais":"Portugal","t":2016.323,"pb":303},{"pais":"Portugal","t":2016.342,"pb":286},{"pais":"Portugal","t":2016.369,"pb":321},{"pais":"Portugal","t":2016.388,"pb":288},{"pais":"Portugal","t":2016.414,"pb":277},{"pais":"Portugal","t":2016.437,"pb":303},{"pais":"Portugal","t":2016.464,"pb":340},{"pais":"Portugal","t":2016.483,"pb":303},{"pais":"Portugal","t":2016.502,"pb":340},{"pais":"Portugal","t":2016.513,"pb":303},{"pais":"Portugal","t":2016.540,"pb":321},{"pais":"Portugal","t":2016.567,"pb":310},{"pais":"Portugal","t":2016.589,"pb":303},{"pais":"Portugal","t":2016.608,"pb":288},{"pais":"Portugal","t":2016.635,"pb":275},{"pais":"Portugal","t":2016.654,"pb":314},{"pais":"Portugal","t":2016.684,"pb":307},{"pais":"Portugal","t":2016.692,"pb":310},{"pais":"Portugal","t":2016.722,"pb":347},{"pais":"Portugal","t":2016.757,"pb":353},{"pais":"Portugal","t":2016.779,"pb":357},{"pais":"Portugal","t":2016.806,"pb":321},{"pais":"Portugal","t":2016.837,"pb":314},{"pais":"Portugal","t":2016.871,"pb":303},{"pais":"Portugal","t":2016.894,"pb":353},{"pais":"Portugal","t":2016.920,"pb":336},{"pais":"Portugal","t":2016.939,"pb":342},{"pais":"Portugal","t":2016.951,"pb":318},{"pais":"Portugal","t":2016.966,"pb":347},{"pais":"Portugal","t":2016.996,"pb":353},{"pais":"Portugal","t":2017.027,"pb":364},{"pais":"Portugal","t":2017.042,"pb":375},{"pais":"Portugal","t":2017.061,"pb":351},{"pais":"Portugal","t":2017.080,"pb":342},{"pais":"Portugal","t":2017.099,"pb":368},{"pais":"Portugal","t":2017.118,"pb":383},{"pais":"Portugal","t":2017.141,"pb":368},{"pais":"Portugal","t":2017.167,"pb":373},{"pais":"Portugal","t":2017.198,"pb":357},{"pais":"Portugal","t":2017.232,"pb":347},{"pais":"Portugal","t":2017.243,"pb":373},{"pais":"Portugal","t":2017.270,"pb":362},{"pais":"Portugal","t":2017.289,"pb":364},{"pais":"Portugal","t":2017.312,"pb":364},{"pais":"Portugal","t":2017.327,"pb":318},{"pais":"Portugal","t":2017.350,"pb":303},{"pais":"Portugal","t":2017.376,"pb":288},{"pais":"Portugal","t":2017.403,"pb":282},{"pais":"Portugal","t":2017.426,"pb":271},{"pais":"Portugal","t":2017.453,"pb":277},{"pais":"Portugal","t":2017.479,"pb":260},{"pais":"Portugal","t":2017.502,"pb":260},{"pais":"Portugal","t":2017.529,"pb":253},{"pais":"Portugal","t":2017.567,"pb":243},{"pais":"Portugal","t":2017.605,"pb":234},{"pais":"Portugal","t":2017.631,"pb":245},{"pais":"Portugal","t":2017.654,"pb":238},{"pais":"Portugal","t":2017.673,"pb":249},{"pais":"Portugal","t":2017.719,"pb":243},{"pais":"Portugal","t":2017.730,"pb":195},{"pais":"Portugal","t":2017.757,"pb":195},{"pais":"Portugal","t":2017.795,"pb":191},{"pais":"Portugal","t":2017.821,"pb":180},{"pais":"Portugal","t":2017.844,"pb":169},{"pais":"Portugal","t":2017.871,"pb":162},{"pais":"Portugal","t":2017.909,"pb":156},{"pais":"Portugal","t":2017.947,"pb":152},{"pais":"Portugal","t":2017.985,"pb":145},{"pais":"Portugal","t":2018.023,"pb":136},{"pais":"Portugal","t":2018.049,"pb":126},{"pais":"Portugal","t":2018.072,"pb":113},{"pais":"Portugal","t":2018.087,"pb":108},{"pais":"Portugal","t":2018.110,"pb":136},{"pais":"Portugal","t":2018.148,"pb":136},{"pais":"Portugal","t":2018.163,"pb":136},{"pais":"Portugal","t":2018.167,"pb":253},{"pais":"Portugal","t":2018.171,"pb":136},{"pais":"Portugal","t":2018.202,"pb":130},{"pais":"Portugal","t":2018.240,"pb":123},{"pais":"Portugal","t":2018.278,"pb":115},{"pais":"Portugal","t":2018.300,"pb":113},{"pais":"Portugal","t":2018.327,"pb":104},{"pais":"Portugal","t":2018.354,"pb":108},{"pais":"Portugal","t":2018.384,"pb":115},{"pais":"Portugal","t":2018.403,"pb":136},{"pais":"Portugal","t":2018.430,"pb":188},{"pais":"Portugal","t":2018.441,"pb":130},{"pais":"Portugal","t":2018.460,"pb":152},{"pais":"Portugal","t":2018.479,"pb":141},{"pais":"Portugal","t":2018.506,"pb":152},{"pais":"Portugal","t":2018.544,"pb":145},{"pais":"Portugal","t":2018.582,"pb":134},{"pais":"Portugal","t":2018.605,"pb":134},{"pais":"Portugal","t":2018.631,"pb":152},{"pais":"Portugal","t":2018.662,"pb":145},{"pais":"Portugal","t":2018.707,"pb":136},{"pais":"Portugal","t":2018.741,"pb":141},{"pais":"Portugal","t":2018.779,"pb":136},{"pais":"Portugal","t":2018.814,"pb":158},{"pais":"Portugal","t":2018.852,"pb":152},{"pais":"Portugal","t":2018.894,"pb":162},{"pais":"Portugal","t":2018.932,"pb":152},{"pais":"Portugal","t":2018.973,"pb":141},{"pais":"Portugal","t":2019.011,"pb":147},{"pais":"Portugal","t":2019.034,"pb":158},{"pais":"Portugal","t":2019.049,"pb":152},
{"pais":"Italia","t":2013.011,"pb":318},{"pais":"Italia","t":2013.015,"pb":275},{"pais":"Italia","t":2013.034,"pb":260},{"pais":"Italia","t":2013.061,"pb":256},{"pais":"Italia","t":2013.087,"pb":245},{"pais":"Italia","t":2013.106,"pb":282},{"pais":"Italia","t":2013.125,"pb":299},{"pais":"Italia","t":2013.137,"pb":275},{"pais":"Italia","t":2013.156,"pb":340},{"pais":"Italia","t":2013.175,"pb":336},{"pais":"Italia","t":2013.194,"pb":314},{"pais":"Italia","t":2013.221,"pb":314},{"pais":"Italia","t":2013.240,"pb":347},{"pais":"Italia","t":2013.251,"pb":340},{"pais":"Italia","t":2013.270,"pb":314},{"pais":"Italia","t":2013.297,"pb":299},{"pais":"Italia","t":2013.319,"pb":275},{"pais":"Italia","t":2013.346,"pb":253},{"pais":"Italia","t":2013.373,"pb":256},{"pais":"Italia","t":2013.395,"pb":256},{"pais":"Italia","t":2013.422,"pb":260},{"pais":"Italia","t":2013.441,"pb":282},{"pais":"Italia","t":2013.460,"pb":267},{"pais":"Italia","t":2013.479,"pb":293},{"pais":"Italia","t":2013.498,"pb":271},{"pais":"Italia","t":2013.525,"pb":267},{"pais":"Italia","t":2013.544,"pb":293},{"pais":"Italia","t":2013.563,"pb":282},{"pais":"Italia","t":2013.586,"pb":275},{"pais":"Italia","t":2013.605,"pb":264},{"pais":"Italia","t":2013.631,"pb":238},{"pais":"Italia","t":2013.650,"pb":253},{"pais":"Italia","t":2013.677,"pb":249},{"pais":"Italia","t":2013.700,"pb":245},{"pais":"Italia","t":2013.722,"pb":260},{"pais":"Italia","t":2013.738,"pb":231},{"pais":"Italia","t":2013.753,"pb":275},{"pais":"Italia","t":2013.772,"pb":245},{"pais":"Italia","t":2013.802,"pb":234},{"pais":"Italia","t":2013.829,"pb":238},{"pais":"Italia","t":2013.867,"pb":238},{"pais":"Italia","t":2013.905,"pb":234},{"pais":"Italia","t":2013.943,"pb":234},{"pais":"Italia","t":2013.966,"pb":227},{"pais":"Italia","t":2013.992,"pb":227},{"pais":"Italia","t":2014.019,"pb":195},{"pais":"Italia","t":2014.042,"pb":195},{"pais":"Italia","t":2014.076,"pb":217},{"pais":"Italia","t":2014.099,"pb":202},{"pais":"Italia","t":2014.133,"pb":191},{"pais":"Italia","t":2014.163,"pb":184},{"pais":"Italia","t":2014.190,"pb":173},{"pais":"Italia","t":2014.221,"pb":180},{"pais":"Italia","t":2014.251,"pb":173},{"pais":"Italia","t":2014.285,"pb":162},{"pais":"Italia","t":2014.308,"pb":156},{"pais":"Italia","t":2014.335,"pb":156},{"pais":"Italia","t":2014.361,"pb":156},{"pais":"Italia","t":2014.384,"pb":188},{"pais":"Italia","t":2014.411,"pb":158},{"pais":"Italia","t":2014.437,"pb":141},{"pais":"Italia","t":2014.468,"pb":134},{"pais":"Italia","t":2014.498,"pb":147},{"pais":"Italia","t":2014.532,"pb":169},{"pais":"Italia","t":2014.555,"pb":147},{"pais":"Italia","t":2014.582,"pb":152},{"pais":"Italia","t":2014.612,"pb":173},{"pais":"Italia","t":2014.639,"pb":158},{"pais":"Italia","t":2014.669,"pb":145},{"pais":"Italia","t":2014.703,"pb":136},{"pais":"Italia","t":2014.734,"pb":145},{"pais":"Italia","t":2014.772,"pb":158},{"pais":"Italia","t":2014.802,"pb":173},{"pais":"Italia","t":2014.829,"pb":162},{"pais":"Italia","t":2014.856,"pb":158},{"pais":"Italia","t":2014.886,"pb":147},{"pais":"Italia","t":2014.916,"pb":136},{"pais":"Italia","t":2014.951,"pb":123},{"pais":"Italia","t":2014.970,"pb":136},{"pais":"Italia","t":2014.992,"pb":136},{"pais":"Italia","t":2015.027,"pb":134},{"pais":"Italia","t":2015.049,"pb":123},{"pais":"Italia","t":2015.076,"pb":130},{"pais":"Italia","t":2015.095,"pb":134},{"pais":"Italia","t":2015.122,"pb":130},{"pais":"Italia","t":2015.152,"pb":115},{"pais":"Italia","t":2015.179,"pb":102},{"pais":"Italia","t":2015.202,"pb":93},{"pais":"Italia","t":2015.221,"pb":108},{"pais":"Italia","t":2015.247,"pb":104},{"pais":"Italia","t":2015.274,"pb":108},{"pais":"Italia","t":2015.297,"pb":134},{"pais":"Italia","t":2015.316,"pb":123},{"pais":"Italia","t":2015.342,"pb":108},{"pais":"Italia","t":2015.354,"pb":130},{"pais":"Italia","t":2015.373,"pb":119},{"pais":"Italia","t":2015.407,"pb":134},{"pais":"Italia","t":2015.437,"pb":136},{"pais":"Italia","t":2015.468,"pb":136},{"pais":"Italia","t":2015.494,"pb":158},{"pais":"Italia","t":2015.506,"pb":123},{"pais":"Italia","t":2015.521,"pb":158},{"pais":"Italia","t":2015.532,"pb":130},{"pais":"Italia","t":2015.559,"pb":119},{"pais":"Italia","t":2015.589,"pb":119},{"pais":"Italia","t":2015.627,"pb":119},{"pais":"Italia","t":2015.654,"pb":123},{"pais":"Italia","t":2015.677,"pb":123},{"pais":"Italia","t":2015.715,"pb":115},{"pais":"Italia","t":2015.753,"pb":113},{"pais":"Italia","t":2015.791,"pb":108},{"pais":"Italia","t":2015.829,"pb":104},{"pais":"Italia","t":2015.863,"pb":102},{"pais":"Italia","t":2015.894,"pb":98},{"pais":"Italia","t":2015.924,"pb":102},{"pais":"Italia","t":2015.958,"pb":98},{"pais":"Italia","t":2015.989,"pb":98},{"pais":"Italia","t":2016.019,"pb":102},{"pais":"Italia","t":2016.057,"pb":108},{"pais":"Italia","t":2016.084,"pb":108},{"pais":"Italia","t":2016.103,"pb":123},{"pais":"Italia","t":2016.114,"pb":145},{"pais":"Italia","t":2016.129,"pb":156},{"pais":"Italia","t":2016.148,"pb":147},{"pais":"Italia","t":2016.171,"pb":136},{"pais":"Italia","t":2016.198,"pb":123},{"pais":"Italia","t":2016.209,"pb":104},{"pais":"Italia","t":2016.236,"pb":119},{"pais":"Italia","t":2016.262,"pb":123},{"pais":"Italia","t":2016.293,"pb":123},{"pais":"Italia","t":2016.323,"pb":123},{"pais":"Italia","t":2016.361,"pb":123},{"pais":"Italia","t":2016.395,"pb":130},{"pais":"Italia","t":2016.418,"pb":119},{"pais":"Italia","t":2016.452,"pb":134},{"pais":"Italia","t":2016.475,"pb":147},{"pais":"Italia","t":2016.502,"pb":136},{"pais":"Italia","t":2016.540,"pb":130},{"pais":"Italia","t":2016.570,"pb":123},{"pais":"Italia","t":2016.605,"pb":115},{"pais":"Italia","t":2016.643,"pb":115},{"pais":"Italia","t":2016.673,"pb":123},{"pais":"Italia","t":2016.692,"pb":119},{"pais":"Italia","t":2016.719,"pb":126},{"pais":"Italia","t":2016.757,"pb":130},{"pais":"Italia","t":2016.795,"pb":134},{"pais":"Italia","t":2016.833,"pb":141},{"pais":"Italia","t":2016.856,"pb":152},{"pais":"Italia","t":2016.882,"pb":173},{"pais":"Italia","t":2016.909,"pb":180},{"pais":"Italia","t":2016.928,"pb":184},{"pais":"Italia","t":2016.947,"pb":167},{"pais":"Italia","t":2016.970,"pb":152},{"pais":"Italia","t":2017.004,"pb":158},{"pais":"Italia","t":2017.034,"pb":167},{"pais":"Italia","t":2017.065,"pb":158},{"pais":"Italia","t":2017.099,"pb":180},{"pais":"Italia","t":2017.118,"pb":195},{"pais":"Italia","t":2017.141,"pb":188},{"pais":"Italia","t":2017.167,"pb":195},{"pais":"Italia","t":2017.194,"pb":180},{"pais":"Italia","t":2017.224,"pb":206},{"pais":"Italia","t":2017.255,"pb":195},{"pais":"Italia","t":2017.281,"pb":202},{"pais":"Italia","t":2017.308,"pb":210},{"pais":"Italia","t":2017.331,"pb":191},{"pais":"Italia","t":2017.357,"pb":188},{"pais":"Italia","t":2017.384,"pb":178},{"pais":"Italia","t":2017.422,"pb":180},{"pais":"Italia","t":2017.453,"pb":199},{"pais":"Italia","t":2017.472,"pb":169},{"pais":"Italia","t":2017.502,"pb":173},{"pais":"Italia","t":2017.536,"pb":169},{"pais":"Italia","t":2017.567,"pb":158},{"pais":"Italia","t":2017.597,"pb":152},{"pais":"Italia","t":2017.631,"pb":158},{"pais":"Italia","t":2017.669,"pb":169},{"pais":"Italia","t":2017.707,"pb":167},{"pais":"Italia","t":2017.745,"pb":169},{"pais":"Italia","t":2017.783,"pb":178},{"pais":"Italia","t":2017.806,"pb":167},{"pais":"Italia","t":2017.844,"pb":152},{"pais":"Italia","t":2017.871,"pb":141},{"pais":"Italia","t":2017.909,"pb":141},{"pais":"Italia","t":2017.947,"pb":141},{"pais":"Italia","t":2017.985,"pb":152},{"pais":"Italia","t":2018.023,"pb":158},{"pais":"Italia","t":2018.053,"pb":141},{"pais":"Italia","t":2018.087,"pb":130},{"pais":"Italia","t":2018.118,"pb":123},{"pais":"Italia","t":2018.144,"pb":130},{"pais":"Italia","t":2018.163,"pb":169},{"pais":"Italia","t":2018.175,"pb":136},{"pais":"Italia","t":2018.202,"pb":141},{"pais":"Italia","t":2018.232,"pb":141},{"pais":"Italia","t":2018.262,"pb":134},{"pais":"Italia","t":2018.289,"pb":126},{"pais":"Italia","t":2018.316,"pb":115},{"pais":"Italia","t":2018.338,"pb":113},{"pais":"Italia","t":2018.365,"pb":119},{"pais":"Italia","t":2018.392,"pb":134},{"pais":"Italia","t":2018.411,"pb":188},{"pais":"Italia","t":2018.426,"pb":288},{"pais":"Italia","t":2018.437,"pb":210},{"pais":"Italia","t":2018.452,"pb":267},{"pais":"Italia","t":2018.468,"pb":217},{"pais":"Italia","t":2018.487,"pb":231},{"pais":"Italia","t":2018.506,"pb":249},{"pais":"Italia","t":2018.525,"pb":231},{"pais":"Italia","t":2018.548,"pb":231},{"pais":"Italia","t":2018.567,"pb":212},{"pais":"Italia","t":2018.593,"pb":231},{"pais":"Italia","t":2018.620,"pb":249},{"pais":"Italia","t":2018.639,"pb":277},{"pais":"Italia","t":2018.662,"pb":271},{"pais":"Italia","t":2018.669,"pb":282},{"pais":"Italia","t":2018.707,"pb":243},{"pais":"Italia","t":2018.741,"pb":234},{"pais":"Italia","t":2018.764,"pb":267},{"pais":"Italia","t":2018.787,"pb":286},{"pais":"Italia","t":2018.806,"pb":325},{"pais":"Italia","t":2018.821,"pb":332},{"pais":"Italia","t":2018.844,"pb":310},{"pais":"Italia","t":2018.867,"pb":288},{"pais":"Italia","t":2018.890,"pb":303},{"pais":"Italia","t":2018.909,"pb":325},{"pais":"Italia","t":2018.924,"pb":297},{"pais":"Italia","t":2018.947,"pb":288},{"pais":"Italia","t":2018.973,"pb":267},{"pais":"Italia","t":2018.996,"pb":253},{"pais":"Italia","t":2019.019,"pb":249},{"pais":"Italia","t":2019.034,"pb":271},{"pais":"Italia","t":2019.049,"pb":271},
{"pais":"Francia","t":2013.011,"pb":65},{"pais":"Francia","t":2013.030,"pb":58},{"pais":"Francia","t":2013.053,"pb":58},{"pais":"Francia","t":2013.080,"pb":58},{"pais":"Francia","t":2013.106,"pb":65},{"pais":"Francia","t":2013.129,"pb":61},{"pais":"Francia","t":2013.163,"pb":71},{"pais":"Francia","t":2013.186,"pb":58},{"pais":"Francia","t":2013.213,"pb":65},{"pais":"Francia","t":2013.243,"pb":71},{"pais":"Francia","t":2013.262,"pb":54},{"pais":"Francia","t":2013.289,"pb":50},{"pais":"Francia","t":2013.308,"pb":54},{"pais":"Francia","t":2013.335,"pb":50},{"pais":"Francia","t":2013.354,"pb":43},{"pais":"Francia","t":2013.373,"pb":54},{"pais":"Francia","t":2013.395,"pb":50},{"pais":"Francia","t":2013.422,"pb":58},{"pais":"Francia","t":2013.449,"pb":58},{"pais":"Francia","t":2013.471,"pb":58},{"pais":"Francia","t":2013.498,"pb":58},{"pais":"Francia","t":2013.525,"pb":61},{"pais":"Francia","t":2013.548,"pb":65},{"pais":"Francia","t":2013.574,"pb":58},{"pais":"Francia","t":2013.601,"pb":54},{"pais":"Francia","t":2013.624,"pb":50},{"pais":"Francia","t":2013.650,"pb":58},{"pais":"Francia","t":2013.677,"pb":58},{"pais":"Francia","t":2013.700,"pb":54},{"pais":"Francia","t":2013.726,"pb":48},{"pais":"Francia","t":2013.757,"pb":58},{"pais":"Francia","t":2013.791,"pb":58},{"pais":"Francia","t":2013.829,"pb":54},{"pais":"Francia","t":2013.867,"pb":54},{"pais":"Francia","t":2013.905,"pb":50},{"pais":"Francia","t":2013.943,"pb":48},{"pais":"Francia","t":2013.981,"pb":48},{"pais":"Francia","t":2014.019,"pb":48},{"pais":"Francia","t":2014.038,"pb":50},{"pais":"Francia","t":2014.049,"pb":65},{"pais":"Francia","t":2014.076,"pb":69},{"pais":"Francia","t":2014.095,"pb":58},{"pais":"Francia","t":2014.133,"pb":58},{"pais":"Francia","t":2014.171,"pb":54},{"pais":"Francia","t":2014.209,"pb":54},{"pais":"Francia","t":2014.247,"pb":50},{"pais":"Francia","t":2014.285,"pb":48},{"pais":"Francia","t":2014.323,"pb":48},{"pais":"Francia","t":2014.361,"pb":43},{"pais":"Francia","t":2014.392,"pb":48},{"pais":"Francia","t":2014.422,"pb":39},{"pais":"Francia","t":2014.456,"pb":33},{"pais":"Francia","t":2014.487,"pb":33},{"pais":"Francia","t":2014.517,"pb":33},{"pais":"Francia","t":2014.551,"pb":39},{"pais":"Francia","t":2014.582,"pb":37},{"pais":"Francia","t":2014.612,"pb":39},{"pais":"Francia","t":2014.646,"pb":33},{"pais":"Francia","t":2014.677,"pb":37},{"pais":"Francia","t":2014.715,"pb":33},{"pais":"Francia","t":2014.753,"pb":33},{"pais":"Francia","t":2014.791,"pb":39},{"pais":"Francia","t":2014.817,"pb":33},{"pais":"Francia","t":2014.856,"pb":37},{"pais":"Francia","t":2014.894,"pb":33},{"pais":"Francia","t":2014.932,"pb":26},{"pais":"Francia","t":2014.970,"pb":26},{"pais":"Francia","t":2015.008,"pb":28},{"pais":"Francia","t":2015.046,"pb":17},{"pais":"Francia","t":2015.068,"pb":17},{"pais":"Francia","t":2015.095,"pb":37},{"pais":"Francia","t":2015.114,"pb":22},{"pais":"Francia","t":2015.144,"pb":26},{"pais":"Francia","t":2015.179,"pb":22},{"pais":"Francia","t":2015.209,"pb":17},{"pais":"Francia","t":2015.236,"pb":26},{"pais":"Francia","t":2015.274,"pb":26},{"pais":"Francia","t":2015.312,"pb":28},{"pais":"Francia","t":2015.350,"pb":28},{"pais":"Francia","t":2015.388,"pb":33},{"pais":"Francia","t":2015.426,"pb":33},{"pais":"Francia","t":2015.464,"pb":43},{"pais":"Francia","t":2015.483,"pb":37},{"pais":"Francia","t":2015.513,"pb":48},{"pais":"Francia","t":2015.540,"pb":37},{"pais":"Francia","t":2015.578,"pb":28},{"pais":"Francia","t":2015.616,"pb":28},{"pais":"Francia","t":2015.654,"pb":37},{"pais":"Francia","t":2015.692,"pb":33},{"pais":"Francia","t":2015.730,"pb":37},{"pais":"Francia","t":2015.768,"pb":33},{"pais":"Francia","t":2015.806,"pb":28},{"pais":"Francia","t":2015.844,"pb":33},{"pais":"Francia","t":2015.882,"pb":33},{"pais":"Francia","t":2015.920,"pb":33},{"pais":"Francia","t":2015.958,"pb":37},{"pais":"Francia","t":2015.996,"pb":37},{"pais":"Francia","t":2016.034,"pb":37},{"pais":"Francia","t":2016.057,"pb":39},{"pais":"Francia","t":2016.084,"pb":28},{"pais":"Francia","t":2016.110,"pb":33},{"pais":"Francia","t":2016.133,"pb":37},{"pais":"Francia","t":2016.167,"pb":39},{"pais":"Francia","t":2016.190,"pb":33},{"pais":"Francia","t":2016.224,"pb":22},{"pais":"Francia","t":2016.247,"pb":26},{"pais":"Francia","t":2016.281,"pb":33},{"pais":"Francia","t":2016.312,"pb":33},{"pais":"Francia","t":2016.350,"pb":33},{"pais":"Francia","t":2016.388,"pb":33},{"pais":"Francia","t":2016.426,"pb":37},{"pais":"Francia","t":2016.464,"pb":43},{"pais":"Francia","t":2016.490,"pb":33},{"pais":"Francia","t":2016.529,"pb":28},{"pais":"Francia","t":2016.567,"pb":22},{"pais":"Francia","t":2016.605,"pb":22},{"pais":"Francia","t":2016.643,"pb":22},{"pais":"Francia","t":2016.681,"pb":22},{"pais":"Francia","t":2016.730,"pb":26},{"pais":"Francia","t":2016.768,"pb":28},{"pais":"Francia","t":2016.806,"pb":28},{"pais":"Francia","t":2016.844,"pb":33},{"pais":"Francia","t":2016.875,"pb":43},{"pais":"Francia","t":2016.894,"pb":58},{"pais":"Francia","t":2016.920,"pb":50},{"pais":"Francia","t":2016.947,"pb":43},{"pais":"Francia","t":2016.985,"pb":48},{"pais":"Francia","t":2017.023,"pb":50},{"pais":"Francia","t":2017.046,"pb":58},{"pais":"Francia","t":2017.072,"pb":54},{"pais":"Francia","t":2017.099,"pb":61},{"pais":"Francia","t":2017.122,"pb":69},{"pais":"Francia","t":2017.156,"pb":71},{"pais":"Francia","t":2017.175,"pb":69},{"pais":"Francia","t":2017.198,"pb":61},{"pais":"Francia","t":2017.224,"pb":58},{"pais":"Francia","t":2017.255,"pb":61},{"pais":"Francia","t":2017.289,"pb":69},{"pais":"Francia","t":2017.312,"pb":71},{"pais":"Francia","t":2017.327,"pb":43},{"pais":"Francia","t":2017.350,"pb":37},{"pais":"Francia","t":2017.384,"pb":43},{"pais":"Francia","t":2017.414,"pb":43},{"pais":"Francia","t":2017.453,"pb":43},{"pais":"Francia","t":2017.490,"pb":39},{"pais":"Francia","t":2017.529,"pb":37},{"pais":"Francia","t":2017.567,"pb":26},{"pais":"Francia","t":2017.605,"pb":28},{"pais":"Francia","t":2017.643,"pb":28},{"pais":"Francia","t":2017.681,"pb":28},{"pais":"Francia","t":2017.719,"pb":28},{"pais":"Francia","t":2017.757,"pb":26},{"pais":"Francia","t":2017.776,"pb":26},{"pais":"Francia","t":2017.783,"pb":39},{"pais":"Francia","t":2017.821,"pb":39},{"pais":"Francia","t":2017.859,"pb":37},{"pais":"Francia","t":2017.897,"pb":37},{"pais":"Francia","t":2017.935,"pb":33},{"pais":"Francia","t":2017.973,"pb":33},{"pais":"Francia","t":2018.011,"pb":33},{"pais":"Francia","t":2018.049,"pb":28},{"pais":"Francia","t":2018.087,"pb":26},{"pais":"Francia","t":2018.125,"pb":26},{"pais":"Francia","t":2018.163,"pb":26},{"pais":"Francia","t":2018.202,"pb":26},{"pais":"Francia","t":2018.240,"pb":26},{"pais":"Francia","t":2018.278,"pb":22},{"pais":"Francia","t":2018.316,"pb":22},{"pais":"Francia","t":2018.354,"pb":22},{"pais":"Francia","t":2018.384,"pb":22},{"pais":"Francia","t":2018.411,"pb":33},{"pais":"Francia","t":2018.433,"pb":37},{"pais":"Francia","t":2018.460,"pb":39},{"pais":"Francia","t":2018.490,"pb":33},{"pais":"Francia","t":2018.529,"pb":28},{"pais":"Francia","t":2018.567,"pb":33},{"pais":"Francia","t":2018.605,"pb":37},{"pais":"Francia","t":2018.639,"pb":39},{"pais":"Francia","t":2018.669,"pb":33},{"pais":"Francia","t":2018.715,"pb":33},{"pais":"Francia","t":2018.757,"pb":33},{"pais":"Francia","t":2018.802,"pb":37},{"pais":"Francia","t":2018.844,"pb":37},{"pais":"Francia","t":2018.890,"pb":39},{"pais":"Francia","t":2018.932,"pb":39},{"pais":"Francia","t":2018.973,"pb":43},{"pais":"Francia","t":2019.019,"pb":48},{"pais":"Francia","t":2019.049,"pb":48}
]},
"mark":{"type":"line","strokeWidth":6.5,"strokeJoin":"round","strokeCap":"round"},
"encoding":{
 "x":{"field":"t","type":"quantitative","scale":{"domain":[2013,2020],"nice":false,"zero":false},
  "axis":{"values":[2013.29,2014.29,2015.295,2016.3,2017.3,2018.3,2019.3],"labelExpr":"'' + floor(datum.value)","labelPadding":50}},
 "y":{"field":"pb","type":"quantitative","scale":{"domain":[0,2000],"nice":false,"zero":true},
  "axis":{"values":[0,500,1000,1500,2000],"labelExpr":"replace(format(datum.value, ','), ',', '.')","labelPadding":60}},
 "color":{"field":"pais","type":"nominal",
  "scale":{"domain":["España","Grecia","Irlanda","Portugal","Italia","Francia"],"range":["#ff0000","#0000ff","#00cc00","#595959","#ff33cc","#00ccff"]},
  "legend":{"title":null,"orient":"none","direction":"horizontal","legendX":1055,"legendY":168,"columns":2,"symbolType":"stroke","symbolSize":3025,"symbolStrokeWidth":6,"labelFontSize":63,"labelFont":"Liberation Sans","labelFontWeight":"bold","labelColor":"#000000","labelOffset":6,"rowPadding":35,"columnPadding":57,"padding":0,"offset":0,"labelLimit":0}}
}},
{"data":{"values":[{"borde":2000}]},
 "mark":{"type":"rule","color":"#000000","strokeWidth":4},
 "encoding":{"y":{"field":"borde","type":"quantitative"}}}
]
}
